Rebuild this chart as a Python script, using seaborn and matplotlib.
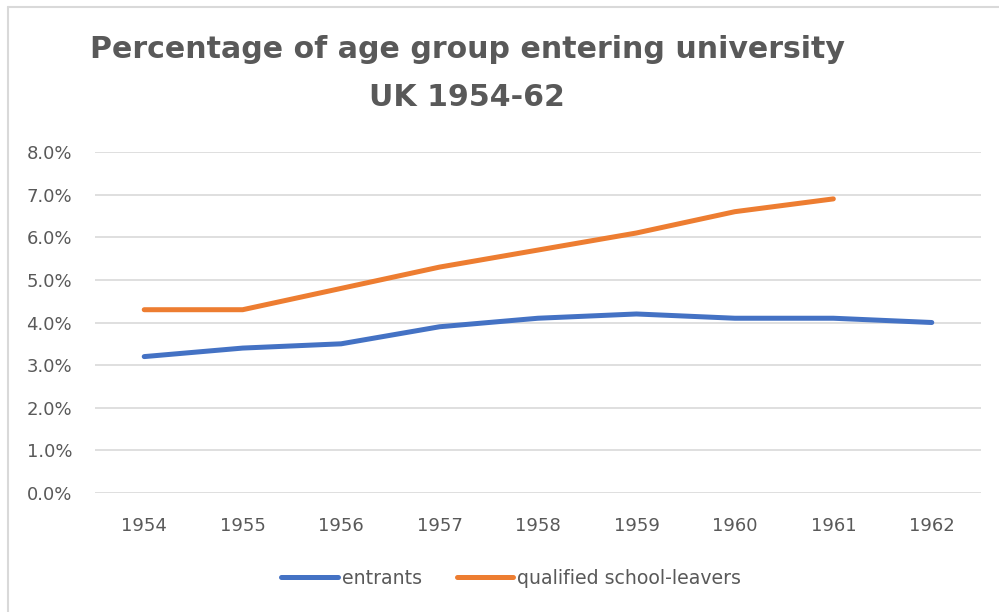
import numpy as np
import pandas as pd
import matplotlib
matplotlib.use("Agg")
import matplotlib.pyplot as plt
from matplotlib.lines import Line2D
from matplotlib.ticker import FuncFormatter
import seaborn as sns

years = ["1954", "1955", "1956", "1957", "1958", "1959", "1960", "1961", "1962"]
entrants = [3.2, 3.4, 3.5, 3.9, 4.1, 4.2, 4.1, 4.1, 4.0]
qualified = [4.3, 4.3, 4.8, 5.3, 5.7, 6.1, 6.6, 6.9, np.nan]
series_names = ["entrants", "qualified school-leavers"]
colors = ["#4472C4", "#ED7D31"]

df = pd.DataFrame({
    "year": years * 2,
    "pct": [v / 100 for v in entrants] + [v / 100 for v in qualified],
    "series": [series_names[0]] * len(years) + [series_names[1]] * len(years),
})
df = df.dropna()
df["pos"] = df["year"].map({y: i for i, y in enumerate(years)})

sns.set_theme(style="white")
plt.rcParams["font.family"] = ["DejaVu Sans"]

text_color = "#595959"
grid_color = "#D9D9D9"

fig = plt.figure(figsize=(9.99, 6.12), dpi=100)
ax = fig.add_axes([95 / 999, 1 - 493 / 612, (981 - 95) / 999, (493 - 152) / 612])

sns.lineplot(data=df, x="pos", y="pct", hue="series", palette=colors,
             hue_order=series_names, linewidth=3.6, ax=ax, legend=False,
             solid_capstyle="round", solid_joinstyle="round")

ax.set_xlim(-0.5, len(years) - 0.5)
ax.set_ylim(0, 0.08)
ax.set_yticks(np.arange(0, 0.0801, 0.01))
ax.yaxis.set_major_formatter(FuncFormatter(lambda v, _: f"{v * 100:.1f}%"))
ax.set_xticks(range(len(years)))
ax.set_xticklabels(years)
ax.set_xlabel("")
ax.set_ylabel("")
ax.grid(axis="y", color=grid_color, linewidth=1.2)
ax.grid(axis="x", visible=False)
for s in ax.spines.values():
    s.set_visible(False)
ax.tick_params(axis="both", length=0, labelsize=13, colors=text_color)
ax.tick_params(axis="y", pad=16.5)
ax.tick_params(axis="x", pad=17)

title_kw = dict(ha="center", va="center", fontsize=21.6, fontweight="bold", color=text_color)
fig.text(467 / 999, 1 - 50 / 612, "Percentage of age group entering university", **title_kw)
fig.text(467 / 999, 1 - 97 / 612, "UK 1954-62", **title_kw)

handles = [Line2D([0], [0], color=c, linewidth=3.6, solid_capstyle="round") for c in colors]
fig.legend(handles, series_names, loc="center", bbox_to_anchor=(511 / 999, 1 - 578 / 612),
           ncol=2, frameon=False, fontsize=13.6, labelcolor=text_color,
           handlelength=3.0, handletextpad=0.2, columnspacing=1.85)

# chart-area border
fig.add_artist(Line2D([7.5 / 999, 7.5 / 999], [0, 1 - 7 / 612], color=grid_color,
                      linewidth=1.5, transform=fig.transFigure))
fig.add_artist(Line2D([7.5 / 999, 1], [1 - 7 / 612, 1 - 7 / 612], color=grid_color,
                      linewidth=1.5, transform=fig.transFigure))

fig.savefig("out.png", dpi=100, facecolor="white")
